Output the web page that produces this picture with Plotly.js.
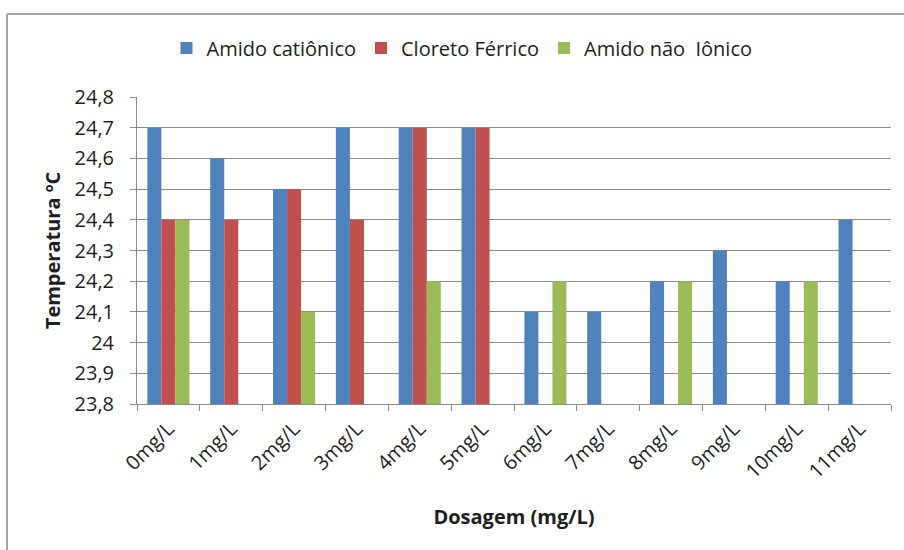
<!DOCTYPE html>
<html>
<head>
<meta charset="utf-8">
<script src="https://cdn.plot.ly/plotly-3.0.1.min.js"></script>
<style>html,body{margin:0;padding:0;background:#fff;}#chart{width:904px;height:550px;}</style>
</head>
<body>
<div id="chart"></div>
<script>
const categories = ["0mg/L","1mg/L","2mg/L","3mg/L","4mg/L","5mg/L","6mg/L","7mg/L","8mg/L","9mg/L","10mg/L","11mg/L"];
const amidoCationico = [24.7, 24.6, 24.5, 24.7, 24.7, 24.7, 24.1, 24.1, 24.2, 24.3, 24.2, 24.4];
const cloretoFerrico = [24.4, 24.4, 24.5, 24.4, 24.7, 24.7, null, null, null, null, null, null];
const amidoNaoIonico = [24.4, null, 24.1, null, 24.2, null, 24.2, null, 24.2, null, 24.2, null];
const seriesNames = ["Amido catiônico", "Cloreto Férrico", "Amido não  Iônico"];
const yTickVals = [23.8, 23.9, 24.0, 24.1, 24.2, 24.3, 24.4, 24.5, 24.6, 24.7, 24.8];
const yTickText = ["23,8","23,9","24","24,1","24,2","24,3","24,4","24,5","24,6","24,7","24,8"];

const FONT = "'Open Sans', 'Noto Sans', sans-serif";
const FS = 20;
const TXT = "#1e1e1e";
const colors = ["#4F81BD", "#C0504D", "#9BBB59"];
const seriesData = [amidoCationico, cloretoFerrico, amidoNaoIonico];

const traces = seriesData.map((vals, i) => ({
  type: "bar",
  name: seriesNames[i],
  x: categories,
  y: vals,
  marker: {color: colors[i], line: {width: 0}},
  hoverinfo: "x+y+name"
}));

const L = 137, R = 891, T = 97, B = 404;
const pw = R - L, ph = B - T;
const px = v => (v - L) / pw;
const py = v => (B - v) / ph;

const layout = {
  width: 904, height: 550,
  margin: {l: L, r: 904 - R, t: T, b: 550 - B, pad: 0},
  paper_bgcolor: "#ffffff",
  plot_bgcolor: "#ffffff",
  font: {family: FONT, size: FS, color: TXT},
  separators: ",.",
  barmode: "group",
  bargap: 0.33,
  bargroupgap: 0,
  showlegend: true,
  legend: {
    orientation: "h",
    x: px(462), xanchor: "center",
    y: py(48), yanchor: "middle",
    font: {family: FONT, size: FS, color: TXT},
    itemwidth: 30,
    traceorder: "normal",
    bgcolor: "rgba(0,0,0,0)"
  },
  xaxis: {
    type: "category",
    showgrid: false,
    showline: true,
    linecolor: "#8c8c8c",
    linewidth: 1,
    ticks: "outside",
    tickson: "boundaries",
    ticklen: 6,
    tickcolor: "#8c8c8c",
    tickangle: -45,
    ticklabelstandoff: 4,
    tickfont: {family: FONT, size: FS, color: TXT},
    title: {text: "<b>Dosagem (mg/L)</b>", font: {family: FONT, size: FS, color: TXT}, standoff: 27},
    automargin: false
  },
  yaxis: {
    range: [23.8, 24.8],
    tickvals: yTickVals,
    ticktext: yTickText,
    showgrid: true,
    gridcolor: "#8c8c8c",
    gridwidth: 1,
    zeroline: false,
    showline: true,
    linecolor: "#8c8c8c",
    linewidth: 1,
    ticks: "outside",
    ticklen: 6,
    tickcolor: "#8c8c8c",
    ticklabelstandoff: 12,
    tickfont: {family: FONT, size: FS, color: TXT},
    title: {text: "<b>Temperatura ºC</b>", font: {family: FONT, size: FS, color: TXT}, standoff: 8},
    automargin: false
  },
  shapes: [
    {type: "line", xref: "paper", yref: "paper", x0: px(7), x1: px(915), y0: py(14), y1: py(14), line: {color: "#a6a6a6", width: 2}, layer: "below"},
    {type: "line", xref: "paper", yref: "paper", x0: px(7), x1: px(7), y0: py(14), y1: py(560), line: {color: "#a6a6a6", width: 2}, layer: "below"}
  ]
};

Plotly.newPlot("chart", traces, layout, {displayModeBar: false, staticPlot: true});
</script>
</body>
</html>
